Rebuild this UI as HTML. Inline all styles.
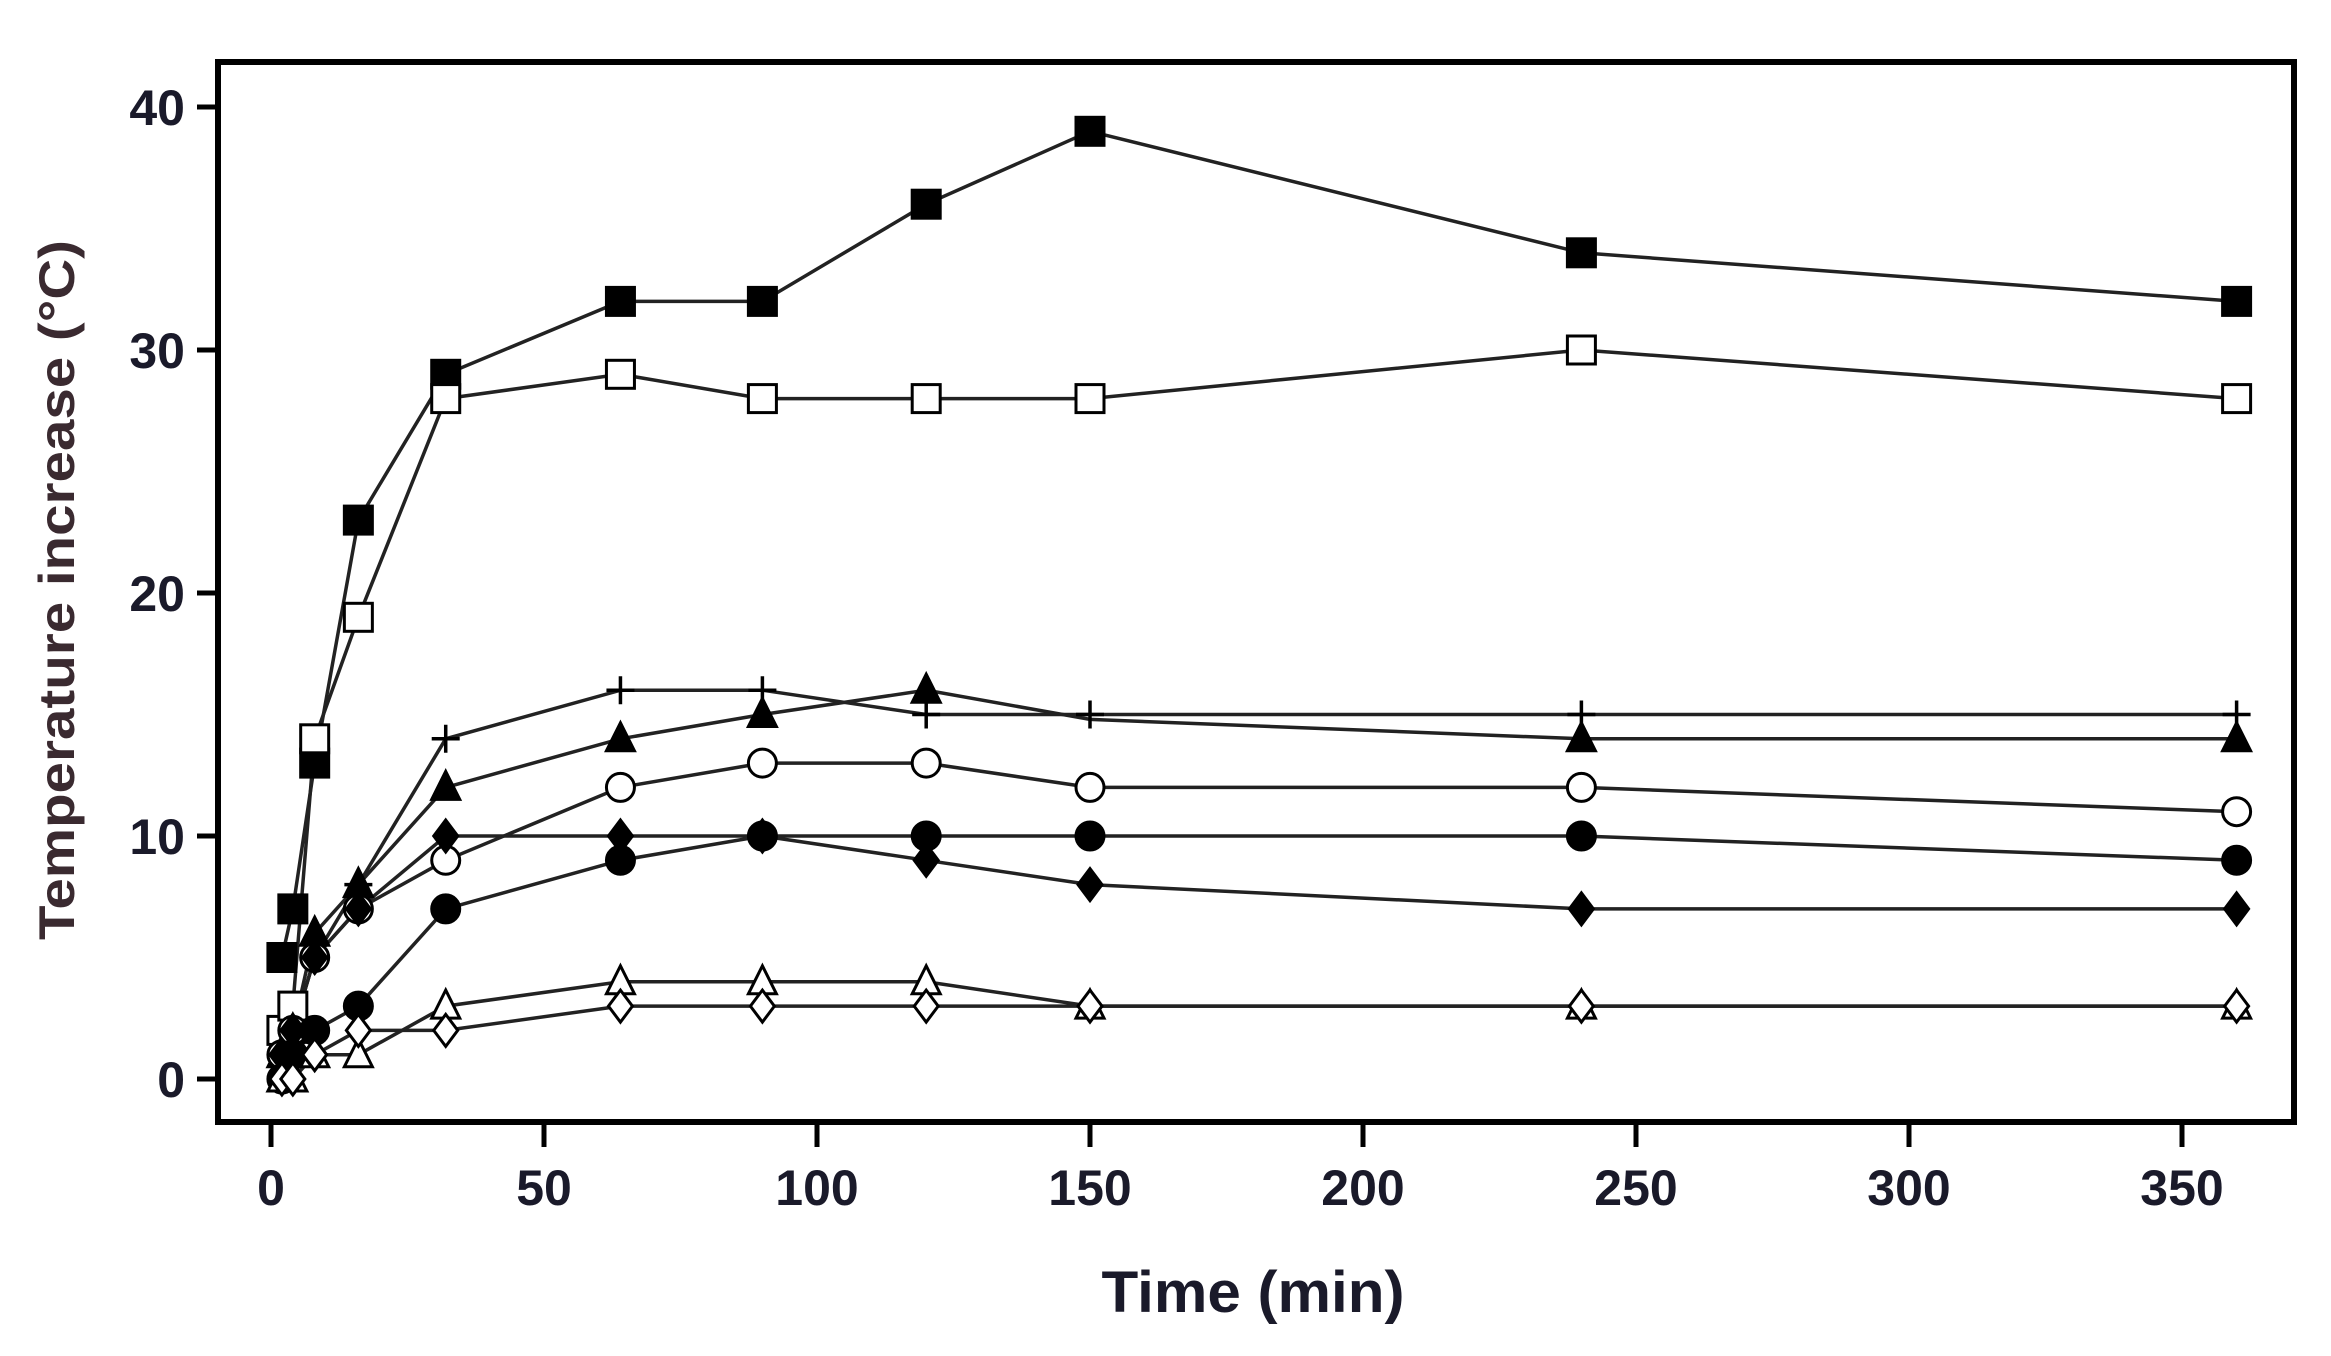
<!DOCTYPE html>
<html><head><meta charset="utf-8"><style>
html,body{margin:0;padding:0;background:#fff;}
svg{display:block;}
text{font-family:"Liberation Sans",Arial,sans-serif;font-weight:bold;}
</style></head><body>
<svg id="s" width="2331" height="1356" viewBox="0 0 2331 1356" xmlns="http://www.w3.org/2000/svg">
<rect x="0" y="0" width="2331" height="1356" fill="#fff"/>
<rect x="218" y="62" width="2076" height="1060" fill="none" stroke="#000" stroke-width="6"/>
<g stroke="#000" stroke-width="5">
<line x1="197" y1="107" x2="218" y2="107"/><line x1="197" y1="350" x2="218" y2="350"/>
<line x1="197" y1="593" x2="218" y2="593"/><line x1="197" y1="836" x2="218" y2="836"/>
<line x1="197" y1="1079" x2="218" y2="1079"/>
</g>
<g fill="#1a1a2a" font-size="50" text-anchor="end">
<text x="185" y="125">40</text><text x="185" y="368">30</text><text x="185" y="611">20</text>
<text x="185" y="854">10</text><text x="185" y="1097">0</text>
</g>
<g id="xt" stroke="#000" stroke-width="5"></g>
<g id="xl" fill="#1a1a2a" font-size="50" text-anchor="middle"></g>
<text x="1253" y="1312" font-size="58" text-anchor="middle" fill="#1a1a2a" textLength="303" lengthAdjust="spacingAndGlyphs">Time (min)</text>
<text transform="translate(74,590) rotate(-90)" font-size="50" text-anchor="middle" fill="#3a2a30" textLength="700" lengthAdjust="spacingAndGlyphs">Temperature increase (°C)</text>
<g id="plot"></g>
</svg>
<script>
var X=function(t){return 271+t*5.46;}, Y=function(v){return 1079-v*24.3;};
var ns="http://www.w3.org/2000/svg";
function el(p,n,a){var e=document.createElementNS(ns,n);for(var k in a)e.setAttribute(k,a[k]);p.appendChild(e);return e;}
var xt=document.getElementById('xt'),xl=document.getElementById('xl');
for(var t=0;t<=350;t+=50){el(xt,'line',{x1:X(t),y1:1122,x2:X(t),y2:1147});var tx=el(xl,'text',{x:X(t),y:1205});tx.textContent=t;}
var T=[2,4,8,16,32,64,90,120,150,240,360];
var S=[
['sqF',[5,7,13,23,29,32,32,36,39,34,32]],
['sqO',[2,3,14,19,28,29,28,28,28,30,28]],
['plus',[1,2,5,8,14,16,16,15,15,15,15]],
['triF',[1,2,6,8,12,14,15,16,14.8,14,14]],
['cirO',[1,2,5,7,9,12,13,13,12,12,11]],
['cirF',[0,1,2,3,7,9,10,10,10,10,9]],
['diaF',[1,2,5,7,10,10,10,9,8,7,7]],
['triO',[0,0,1,1,3,4,4,4,3,3,3]],
['diaO',[0,0,1,2,2,3,3,3,3,3,3]]
];
var p=document.getElementById('plot');
S.forEach(function(s){var pts=T.map(function(t,i){return X(t)+','+Y(s[1][i]);}).join(' ');
el(p,'polyline',{points:pts,fill:'none',stroke:'#222',"stroke-width":3.5});});
S.forEach(function(s){var m=s[0];T.forEach(function(t,i){
 if(m=='triF'&&t==150)return;
 var x=X(t),y=Y(s[1][i]),r=14;var f=m.slice(-1)=='F'?'#000':'#fff';var a={fill:f,stroke:'#000','stroke-width':3};
 if(m.indexOf('sq')==0){a.x=x-r;a.y=y-r;a.width=2*r;a.height=2*r;el(p,'rect',a);}
 else if(m.indexOf('cir')==0){a.cx=x;a.cy=y;a.r=r;el(p,'circle',a);}
 else if(m.indexOf('tri')==0){a.points=x+','+(y-r-2)+' '+(x+r)+','+(y+r-2)+' '+(x-r)+','+(y+r-2);el(p,'polygon',a);}
 else if(m.indexOf('dia')==0){a.points=x+','+(y-r-2)+' '+(x+r-2)+','+y+' '+x+','+(y+r+2)+' '+(x-r+2)+','+y;el(p,'polygon',a);}
 else {el(p,'path',{d:'M'+(x-r)+' '+y+'H'+(x+r)+'M'+x+' '+(y-r)+'V'+(y+r),stroke:'#000','stroke-width':3.5});}
});});
</script>
</body></html>
